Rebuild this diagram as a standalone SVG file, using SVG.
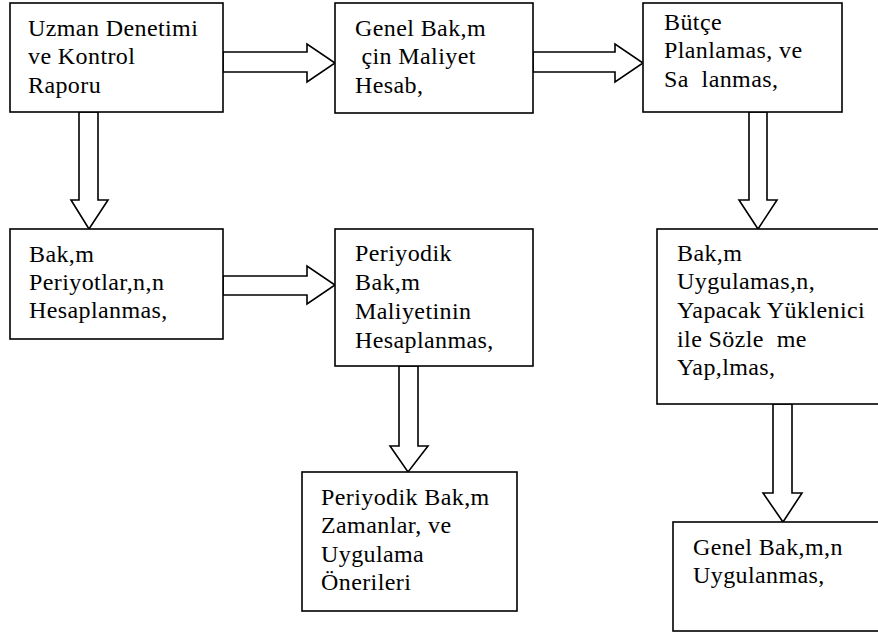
<svg xmlns="http://www.w3.org/2000/svg" width="878" height="632" viewBox="0 0 878 632">
<style>
.box{fill:#fff;stroke:#000;stroke-width:1.6}
.arr{fill:#fff;stroke:#000;stroke-width:1.6;stroke-linejoin:miter}
</style>
<rect width="878" height="632" fill="#fff"/>
<g id="connectors">
<polygon class="arr" points="223,52 307,52 307,44 335,63 307,82 307,72 223,72"/>
<polygon class="arr" points="533,52 615,52 615,44 643,63 615,82 615,72 533,72"/>
<polygon class="arr" points="223,276 307,276 307,266 335,285 307,304 307,295 223,295"/>
<polygon class="arr" points="79,112 79,200 71,200 89,229 108,200 98,200 98,112"/>
<polygon class="arr" points="749,112 749,200 739,200 758,229 777,200 767,200 767,112"/>
<polygon class="arr" points="399,366 399,446 390,446 408,472 428,446 418,446 418,366"/>
<polygon class="arr" points="773,404 773,493 763,493 783,522 802,493 792,493 792,404"/>
</g>
<g font-family="Liberation Serif, Tinos, Times New Roman, Noto Serif, DejaVu Serif, FreeSerif, serif" font-size="24" fill="#000" letter-spacing="0.4">
<g id="n1">
<rect class="box" x="10" y="3" width="213" height="109"/>
<text x="28" y="36">Uzman Denetimi</text>
<text x="28" y="64">ve Kontrol</text>
<text x="28" y="93">Raporu</text>
</g>
<g id="n2">
<rect class="box" x="335" y="3" width="198" height="110"/>
<text x="355" y="36">Genel Bak,m</text>
<text x="355" y="64" xml:space="preserve"> çin Maliyet</text>
<text x="355" y="93">Hesab,</text>
</g>
<g id="n3">
<rect class="box" x="643" y="3" width="199" height="109"/>
<text x="664" y="30">Bütçe</text>
<text x="664" y="58">Planlamas, ve</text>
<text x="664" y="87" xml:space="preserve">Sa  lanmas,</text>
</g>
<g id="n4">
<rect class="box" x="10" y="229" width="213" height="110"/>
<text x="29" y="262">Bak,m</text>
<text x="29" y="290">Periyotlar,n,n</text>
<text x="29" y="318">Hesaplanmas,</text>
</g>
<g id="n5">
<rect class="box" x="335" y="229" width="198" height="137"/>
<text x="355" y="261">Periyodik</text>
<text x="355" y="290">Bak,m</text>
<text x="355" y="319">Maliyetinin</text>
<text x="355" y="348">Hesaplanmas,</text>
</g>
<g id="n6">
<rect class="box" x="657" y="229" width="225" height="175"/>
<text x="677" y="261">Bak,m</text>
<text x="677" y="289">Uygulamas,n,</text>
<text x="677" y="318">Yapacak Yüklenici</text>
<text x="677" y="347" xml:space="preserve">ile Sözle  me</text>
<text x="677" y="375">Yap,lmas,</text>
</g>
<g id="n7">
<rect class="box" x="302" y="472" width="215" height="139"/>
<text x="321" y="505">Periyodik Bak,m</text>
<text x="321" y="533">Zamanlar, ve</text>
<text x="321" y="562">Uygulama</text>
<text x="321" y="590">Önerileri</text>
</g>
<g id="n8">
<rect class="box" x="673" y="522" width="209" height="109"/>
<text x="693" y="555">Genel Bak,m,n</text>
<text x="693" y="583">Uygulanmas,</text>
</g>
</g>
</svg>
